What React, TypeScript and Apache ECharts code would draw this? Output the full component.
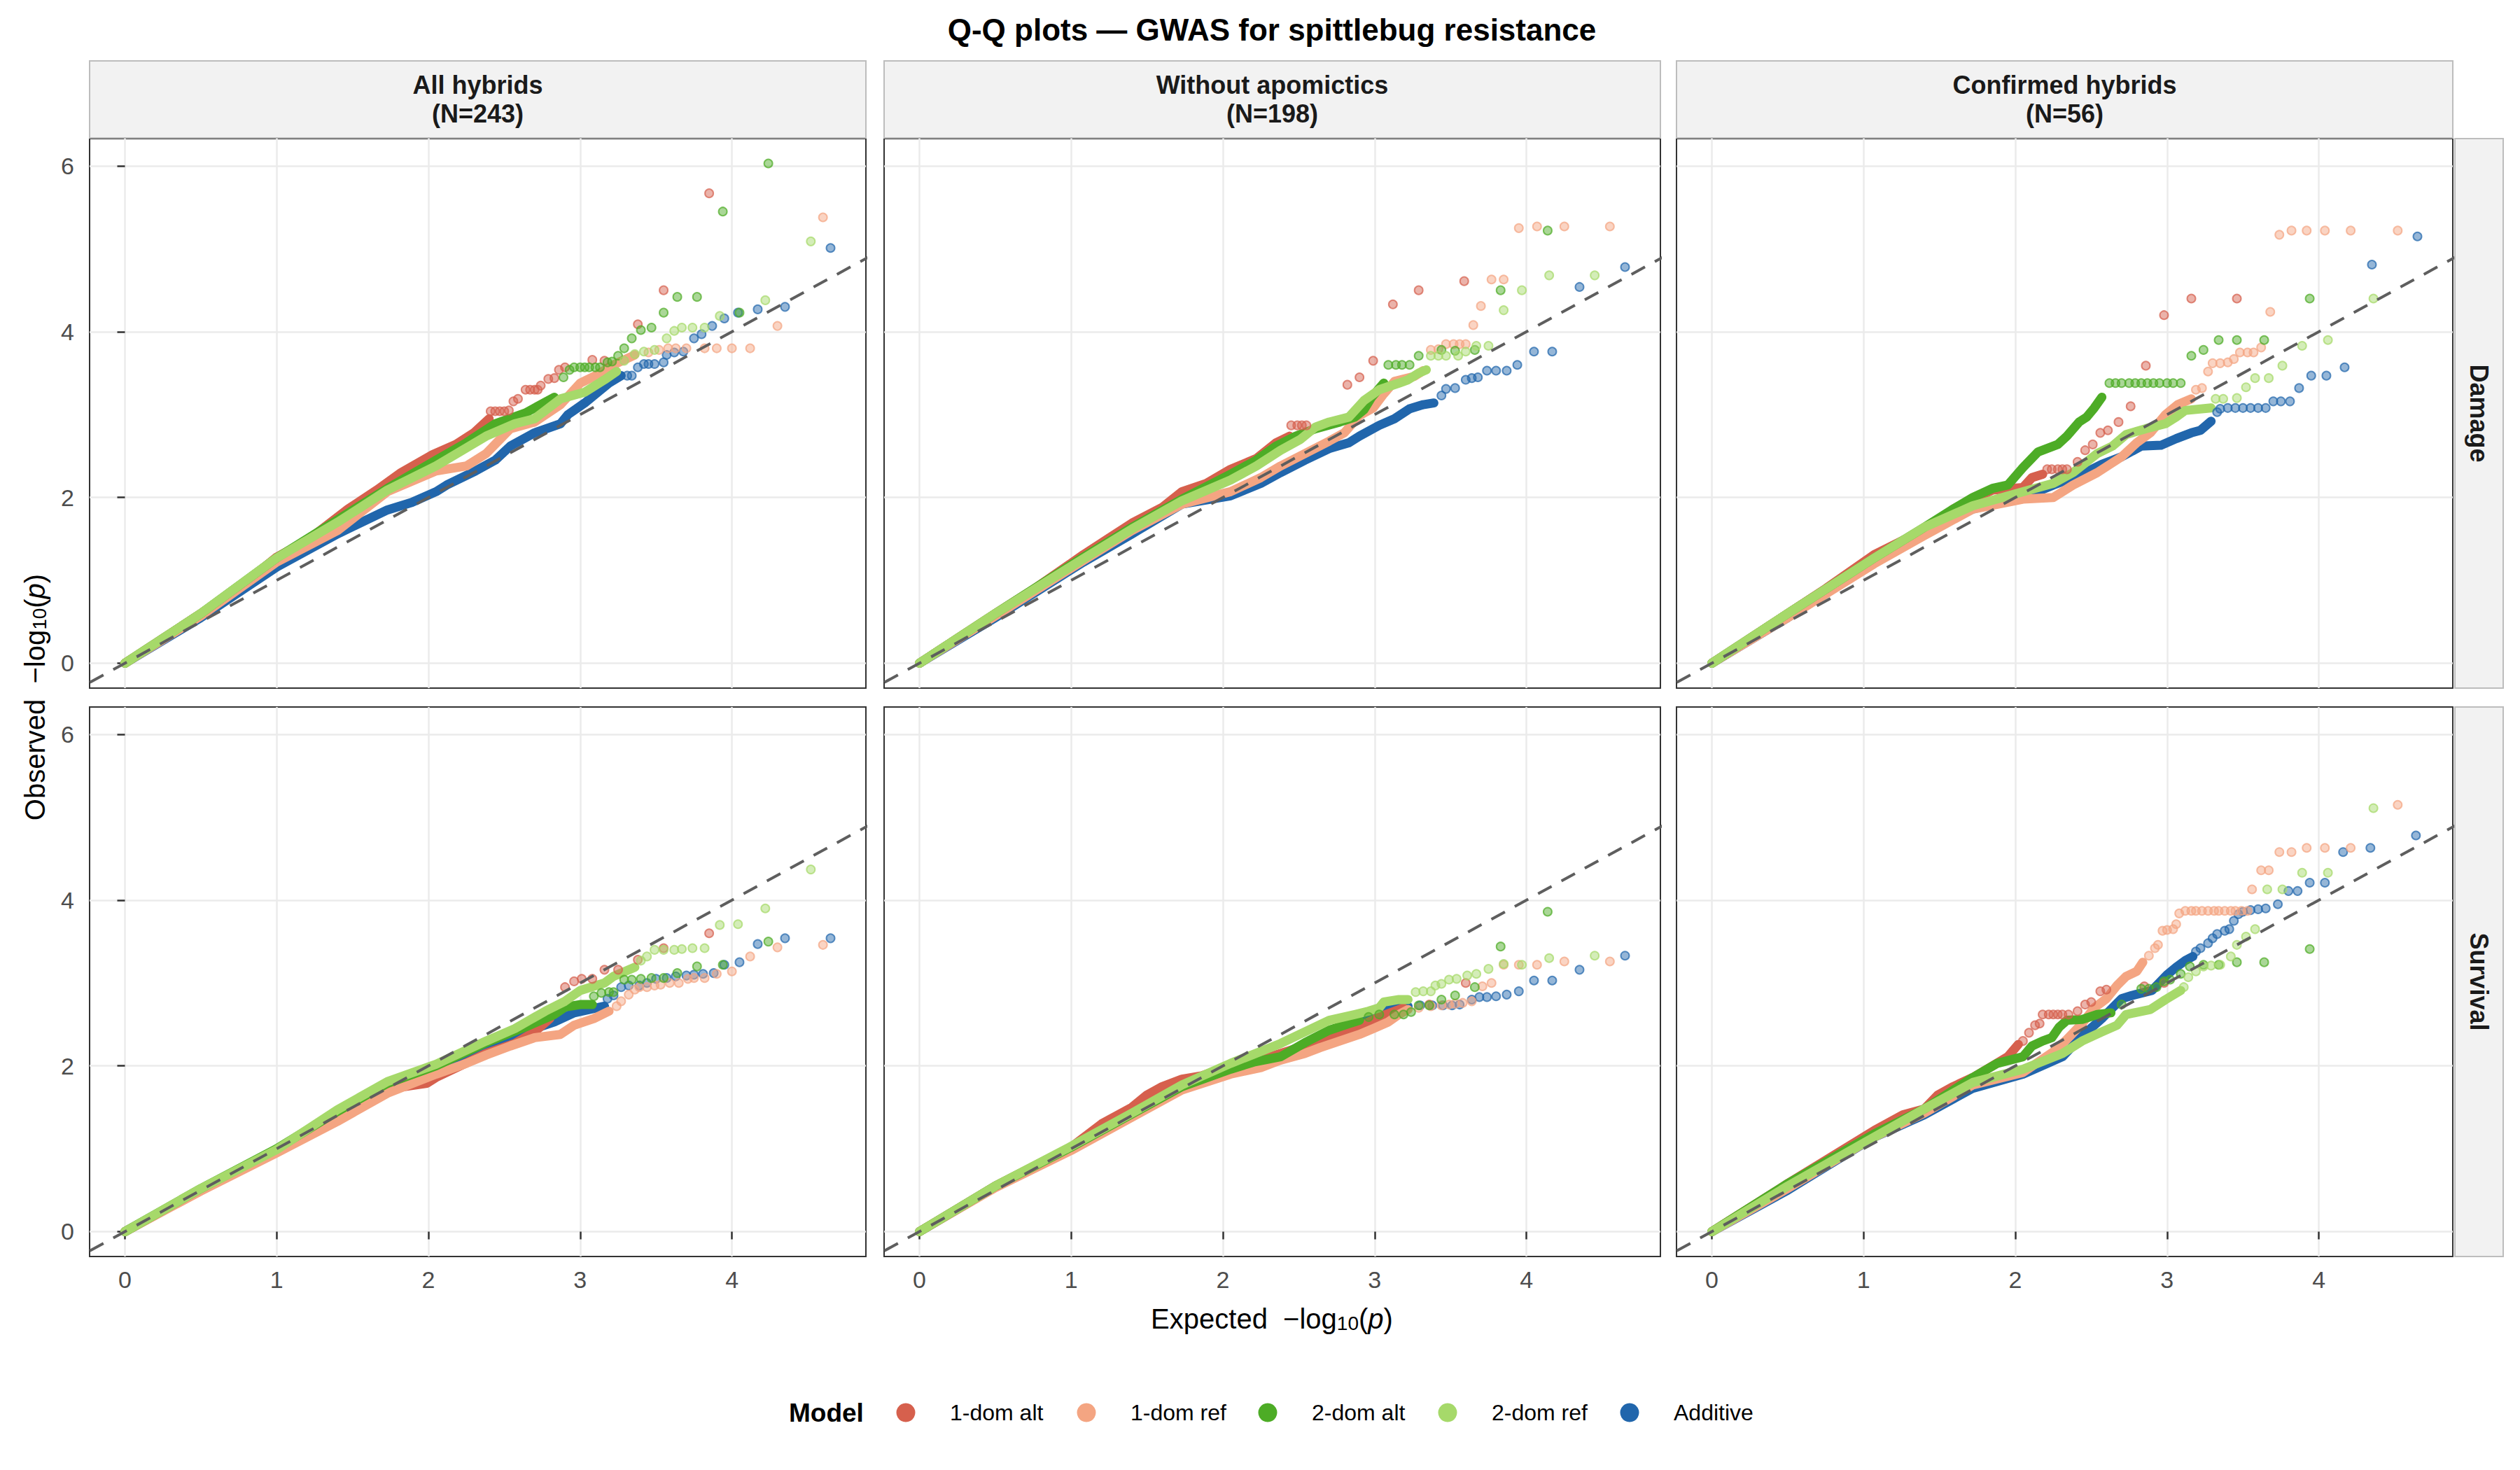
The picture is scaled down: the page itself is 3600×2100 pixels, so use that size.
import { useEffect, useRef } from "react";
import * as echarts from "echarts";

type Pt = [number, number];

const MODELS = ["1-dom alt", "1-dom ref", "2-dom alt", "2-dom ref", "Additive"];
const MODEL_COLORS = ["#d6604d", "#f4a582", "#4dac26", "#a6d96a", "#2166ac"];
const SUBSETS = ["All hybrids", "Without apomictics", "Confirmed hybrids"];
const SUBSET_N = [243, 198, 56];
const TRAITS = ["Damage", "Survival"];
const X_TICKS = [0, 1, 2, 3, 4];
const Y_TICKS = [0, 2, 4, 6];
const X_LIMITS = [-0.233, 4.883];
const Y_LIMITS = [-0.3, 6.33];
const DIAGONAL = [-1, 7];

// Each panel: the dense part of every QQ curve (drawn as a thick trace) and the
// sparse upper tail (single points). Order inside each list follows MODELS.
const damageAllTrace: Pt[][] = [
  [[0, 0], [0.5, 0.6], [0.75, 0.91], [1, 1.28], [1.2, 1.48], [1.47, 1.86], [1.66, 2.09], [1.82, 2.3], [2.02, 2.51], [2.18, 2.64], [2.3, 2.78], [2.4, 2.95]],
  [[0, 0], [0.5, 0.57], [1, 1.22], [1.4, 1.6], [1.73, 2.07], [2.05, 2.32], [2.25, 2.38], [2.38, 2.53], [2.54, 2.83], [2.7, 2.91], [2.87, 3.12], [3, 3.38], [3.09, 3.46], [3.23, 3.61], [3.36, 3.72]],
  [[0, 0], [0.5, 0.6], [1, 1.27], [1.4, 1.73], [1.73, 2.11], [2.05, 2.45], [2.25, 2.66], [2.44, 2.89], [2.64, 3.02], [2.83, 3.21]],
  [[0, 0], [0.5, 0.6], [1, 1.27], [1.4, 1.7], [1.73, 2.09], [2.05, 2.38], [2.38, 2.74], [2.57, 2.89], [2.7, 2.95], [2.87, 3.19], [3.03, 3.27], [3.16, 3.42], [3.24, 3.52]],
  [[0, 0], [0.5, 0.55], [1, 1.16], [1.4, 1.56], [1.73, 1.85], [1.89, 1.94], [2.05, 2.07], [2.12, 2.15], [2.31, 2.32], [2.44, 2.45], [2.54, 2.62], [2.7, 2.78], [2.87, 2.89], [2.92, 3], [3.03, 3.14], [3.09, 3.23], [3.19, 3.38], [3.27, 3.47]],
];
const damageAllTail: Pt[][] = [
  [[2.41, 3.04], [2.44, 3.04], [2.47, 3.04], [2.5, 3.04], [2.53, 3.05], [2.56, 3.16], [2.59, 3.19], [2.64, 3.3], [2.67, 3.3], [2.7, 3.3], [2.72, 3.3], [2.74, 3.35], [2.79, 3.43], [2.83, 3.44], [2.86, 3.54], [2.9, 3.57], [3.08, 3.66], [3.16, 3.65], [3.38, 4.09], [3.55, 4.5], [3.85, 5.67]],
  [[3.45, 3.75], [3.52, 3.78], [3.58, 3.8], [3.63, 3.8], [3.7, 3.8], [3.82, 3.8], [3.9, 3.8], [4, 3.8], [4.12, 3.8], [4.3, 4.07], [4.6, 5.38]],
  [[2.89, 3.45], [2.93, 3.54], [2.96, 3.57], [3, 3.57], [3.03, 3.57], [3.06, 3.57], [3.1, 3.57], [3.13, 3.57], [3.18, 3.63], [3.21, 3.64], [3.25, 3.71], [3.29, 3.8], [3.34, 3.92], [3.4, 4.02], [3.47, 4.05], [3.55, 4.23], [3.64, 4.42], [3.77, 4.42], [3.94, 5.45], [4.05, 4.23], [4.24, 6.03]],
  [[3.29, 3.65], [3.36, 3.73], [3.42, 3.76], [3.49, 3.78], [3.57, 3.92], [3.62, 4.01], [3.67, 4.05], [3.74, 4.05], [3.82, 4.05], [3.92, 4.19], [4.22, 4.38], [4.52, 5.09]],
  [[3.31, 3.47], [3.34, 3.47], [3.38, 3.57], [3.42, 3.61], [3.45, 3.61], [3.49, 3.61], [3.55, 3.63], [3.57, 3.72], [3.62, 3.75], [3.68, 3.76], [3.75, 3.92], [3.8, 3.97], [3.87, 4.07], [3.95, 4.16], [4.04, 4.23], [4.17, 4.27], [4.35, 4.3], [4.65, 5.01]],
];

const damageNoApoTrace: Pt[][] = [
  [[0, 0], [0.5, 0.6], [0.75, 0.89], [1.08, 1.31], [1.4, 1.69], [1.6, 1.88], [1.73, 2.07], [1.89, 2.17], [2.05, 2.34], [2.22, 2.47], [2.35, 2.66], [2.44, 2.74]],
  [[0, 0], [0.5, 0.57], [1.08, 1.24], [1.4, 1.6], [1.73, 1.92], [2.05, 2.07], [2.25, 2.24], [2.38, 2.38], [2.54, 2.53], [2.7, 2.68], [2.8, 2.78], [2.9, 2.99], [2.99, 3.08], [3.06, 3.25], [3.13, 3.4], [3.26, 3.46], [3.32, 3.53]],
  [[0, 0], [0.5, 0.6], [1.08, 1.28], [1.4, 1.64], [1.73, 1.98], [2.05, 2.28], [2.22, 2.45], [2.35, 2.62], [2.48, 2.74], [2.61, 2.83], [2.77, 2.91], [2.87, 2.97], [2.93, 3.06], [2.98, 3.21], [3.06, 3.38]],
  [[0, 0], [0.5, 0.6], [1.08, 1.26], [1.4, 1.62], [1.73, 1.96], [2.05, 2.21], [2.22, 2.38], [2.38, 2.57], [2.51, 2.7], [2.61, 2.85], [2.7, 2.91], [2.83, 2.97], [2.93, 3.17], [3.03, 3.3], [3.16, 3.38], [3.22, 3.42], [3.29, 3.5], [3.34, 3.54]],
  [[0, 0], [0.5, 0.55], [1.08, 1.22], [1.4, 1.56], [1.73, 1.92], [2.05, 2.02], [2.25, 2.17], [2.38, 2.3], [2.54, 2.45], [2.7, 2.59], [2.83, 2.66], [2.9, 2.74], [3.03, 2.87], [3.13, 2.95], [3.23, 3.07], [3.32, 3.12], [3.39, 3.14]],
];
const damageNoApoTail: Pt[][] = [
  [[2.45, 2.87], [2.49, 2.87], [2.52, 2.87], [2.55, 2.87], [2.82, 3.36], [2.9, 3.45], [2.99, 3.65], [3.12, 4.33], [3.29, 4.5], [3.59, 4.61]],
  [[3.37, 3.78], [3.42, 3.79], [3.47, 3.85], [3.52, 3.85], [3.56, 3.85], [3.6, 3.85], [3.65, 4.08], [3.7, 4.31], [3.77, 4.63], [3.85, 4.63], [3.95, 5.25], [4.07, 5.27], [4.25, 5.27], [4.55, 5.27]],
  [[3.09, 3.6], [3.14, 3.6], [3.18, 3.6], [3.23, 3.6], [3.29, 3.71], [3.44, 3.78], [3.53, 3.77], [3.66, 3.78], [3.83, 4.5], [4.14, 5.22]],
  [[3.37, 3.71], [3.42, 3.71], [3.47, 3.71], [3.55, 3.71], [3.6, 3.76], [3.67, 3.83], [3.75, 3.83], [3.85, 4.26], [3.97, 4.5], [4.15, 4.68], [4.45, 4.68]],
  [[3.44, 3.23], [3.47, 3.31], [3.53, 3.32], [3.6, 3.42], [3.64, 3.44], [3.68, 3.45], [3.74, 3.53], [3.8, 3.53], [3.87, 3.53], [3.94, 3.6], [4.05, 3.76], [4.17, 3.76], [4.35, 4.54], [4.65, 4.78]],
];

const damageConfTrace: Pt[][] = [
  [[0, 0], [0.5, 0.6], [0.75, 0.9], [1.07, 1.31], [1.3, 1.52], [1.49, 1.69], [1.59, 1.86], [1.72, 1.98], [1.85, 2.09], [2.05, 2.12], [2.11, 2.24], [2.18, 2.28]],
  [[0, 0], [0.5, 0.55], [1.07, 1.2], [1.4, 1.54], [1.72, 1.86], [2.05, 1.98], [2.25, 2], [2.38, 2.15], [2.54, 2.3], [2.7, 2.49], [2.8, 2.66], [2.89, 2.78], [2.99, 3], [3.07, 3.12], [3.16, 3.19]],
  [[0, 0], [0.5, 0.6], [1.07, 1.27], [1.4, 1.64], [1.59, 1.86], [1.72, 2], [1.85, 2.11], [1.95, 2.15], [2.05, 2.36], [2.15, 2.55], [2.28, 2.64], [2.34, 2.74], [2.42, 2.91], [2.47, 2.97], [2.52, 3.08], [2.57, 3.21]],
  [[0, 0], [0.5, 0.6], [1.07, 1.27], [1.4, 1.64], [1.72, 1.9], [2.05, 2.07], [2.25, 2.17], [2.38, 2.3], [2.54, 2.53], [2.64, 2.62], [2.73, 2.76], [2.86, 2.83], [2.99, 2.89], [3.06, 2.97], [3.12, 3.05], [3.29, 3.08]],
  [[0, 0], [0.5, 0.55], [1.07, 1.22], [1.4, 1.58], [1.72, 1.86], [1.98, 1.98], [2.05, 2], [2.25, 2.15], [2.44, 2.28], [2.57, 2.4], [2.7, 2.49], [2.83, 2.62], [2.96, 2.63], [3.06, 2.71], [3.16, 2.78], [3.22, 2.81], [3.29, 2.92]],
];
const damageConfTail: Pt[][] = [
  [[2.21, 2.34], [2.24, 2.34], [2.28, 2.34], [2.31, 2.34], [2.34, 2.34], [2.41, 2.43], [2.46, 2.57], [2.51, 2.64], [2.56, 2.78], [2.61, 2.81], [2.68, 2.91], [2.76, 3.1], [2.86, 3.59], [2.98, 4.2], [3.16, 4.4], [3.46, 4.4]],
  [[3.19, 3.3], [3.23, 3.32], [3.27, 3.52], [3.3, 3.62], [3.35, 3.62], [3.4, 3.63], [3.44, 3.67], [3.48, 3.75], [3.53, 3.75], [3.57, 3.75], [3.62, 3.81], [3.68, 4.24], [3.74, 5.17], [3.82, 5.22], [3.92, 5.22], [4.04, 5.22], [4.21, 5.22], [4.52, 5.22]],
  [[2.62, 3.38], [2.66, 3.38], [2.7, 3.38], [2.75, 3.38], [2.79, 3.38], [2.83, 3.38], [2.87, 3.38], [2.91, 3.38], [2.95, 3.38], [3, 3.38], [3.04, 3.38], [3.09, 3.38], [3.16, 3.71], [3.24, 3.78], [3.34, 3.9], [3.46, 3.9], [3.64, 3.9], [3.94, 4.4]],
  [[3.32, 3.19], [3.37, 3.19], [3.46, 3.2], [3.52, 3.33], [3.58, 3.44], [3.67, 3.44], [3.76, 3.59], [3.89, 3.83], [4.06, 3.9], [4.36, 4.4]],
  [[3.33, 3.03], [3.35, 3.07], [3.4, 3.08], [3.45, 3.08], [3.5, 3.08], [3.55, 3.08], [3.6, 3.08], [3.65, 3.08], [3.7, 3.16], [3.75, 3.16], [3.81, 3.16], [3.87, 3.32], [3.95, 3.47], [4.05, 3.47], [4.17, 3.57], [4.35, 4.81], [4.65, 5.15]],
];

const survivalAllTrace: Pt[][] = [
  [[0, 0], [0.5, 0.5], [1, 0.97], [1.4, 1.4], [1.73, 1.72], [1.99, 1.79], [2.05, 1.86], [2.21, 2], [2.38, 2.15], [2.57, 2.27], [2.7, 2.41], [2.8, 2.57]],
  [[0, 0], [0.5, 0.49], [1, 0.95], [1.4, 1.33], [1.73, 1.67], [2.05, 1.9], [2.25, 2.03], [2.38, 2.13], [2.54, 2.24], [2.7, 2.34], [2.87, 2.38], [2.96, 2.49], [3.09, 2.57], [3.19, 2.66]],
  [[0, 0], [0.5, 0.52], [1, 1], [1.4, 1.45], [1.73, 1.79], [2.05, 2], [2.38, 2.28], [2.64, 2.47], [2.83, 2.62], [2.9, 2.71], [3, 2.74], [3.08, 2.74]],
  [[0, 0], [0.5, 0.52], [1, 0.99], [1.4, 1.47], [1.73, 1.81], [2.05, 2.02], [2.38, 2.3], [2.57, 2.45], [2.77, 2.66], [2.9, 2.78], [3, 2.91], [3.16, 3], [3.22, 3.08], [3.36, 3.19]],
  [[0, 0], [0.5, 0.51], [1, 0.98], [1.4, 1.42], [1.73, 1.76], [2.05, 1.96], [2.38, 2.24], [2.57, 2.37], [2.7, 2.45], [2.83, 2.53], [2.96, 2.64], [3.16, 2.72]],
];
const survivalAllTail: Pt[][] = [
  [[2.9, 2.95], [2.96, 3.02], [3.01, 3.05], [3.08, 3.05], [3.16, 3.16], [3.25, 3.16], [3.38, 3.28], [3.55, 3.42], [3.85, 3.6]],
  [[3.24, 2.72], [3.27, 2.78], [3.32, 2.86], [3.36, 2.92], [3.39, 2.95], [3.44, 2.95], [3.49, 2.97], [3.53, 2.98], [3.59, 3], [3.65, 3], [3.71, 3.05], [3.75, 3.06], [3.82, 3.06], [3.9, 3.11], [4, 3.14], [4.12, 3.32], [4.3, 3.43], [4.6, 3.46]],
  [[3.09, 2.84], [3.14, 2.88], [3.19, 2.89], [3.22, 2.89], [3.29, 3.04], [3.34, 3.04], [3.4, 3.05], [3.47, 3.06], [3.55, 3.06], [3.64, 3.12], [3.77, 3.2], [3.94, 3.22], [4.24, 3.5]],
  [[3.4, 3.27], [3.44, 3.32], [3.49, 3.4], [3.55, 3.4], [3.62, 3.4], [3.67, 3.41], [3.74, 3.42], [3.82, 3.42], [3.92, 3.7], [4.04, 3.71], [4.22, 3.9], [4.52, 4.37]],
  [[3.18, 2.81], [3.22, 2.85], [3.27, 2.95], [3.32, 2.97], [3.39, 2.97], [3.44, 3], [3.5, 3.05], [3.57, 3.06], [3.63, 3.08], [3.7, 3.09], [3.75, 3.1], [3.81, 3.11], [3.88, 3.12], [3.95, 3.22], [4.05, 3.25], [4.17, 3.47], [4.35, 3.54], [4.65, 3.54]],
];

const survivalNoApoTrace: Pt[][] = [
  [[0, 0], [0.5, 0.55], [1, 1.02], [1.2, 1.3], [1.4, 1.5], [1.5, 1.65], [1.6, 1.75], [1.73, 1.84], [1.86, 1.88], [2.05, 2], [2.31, 2.11], [2.57, 2.26], [2.87, 2.45], [3.03, 2.59], [3.19, 2.7]],
  [[0, 0], [0.5, 0.53], [1, 0.98], [1.4, 1.38], [1.73, 1.71], [2.05, 1.9], [2.25, 1.98], [2.38, 2.07], [2.54, 2.15], [2.64, 2.22], [2.77, 2.3], [2.9, 2.38], [2.99, 2.45], [3.09, 2.53], [3.16, 2.62], [3.22, 2.68]],
  [[0, 0], [0.5, 0.55], [1, 1.02], [1.4, 1.42], [1.73, 1.75], [2.05, 1.96], [2.21, 2.05], [2.38, 2.11], [2.54, 2.28], [2.7, 2.43], [2.83, 2.51], [2.9, 2.55]],
  [[0, 0], [0.5, 0.55], [1, 1.03], [1.4, 1.43], [1.73, 1.77], [2.05, 2.03], [2.38, 2.27], [2.54, 2.41], [2.7, 2.55], [2.87, 2.62], [2.96, 2.66], [3.03, 2.7], [3.06, 2.77], [3.16, 2.8], [3.22, 2.8]],
  [[0, 0], [0.5, 0.54], [1, 1], [1.4, 1.41], [1.73, 1.75], [2.05, 1.98], [2.38, 2.13], [2.54, 2.26], [2.7, 2.38], [2.83, 2.49], [2.9, 2.57], [3.03, 2.66], [3.13, 2.7], [3.22, 2.72]],
];
const survivalNoApoTail: Pt[][] = [
  [[3.36, 2.74], [3.6, 3]],
  [[3.29, 2.7], [3.37, 2.72], [3.44, 2.73], [3.49, 2.74], [3.53, 2.75], [3.58, 2.76], [3.64, 2.78], [3.71, 2.96], [3.77, 3], [3.85, 3.22], [3.95, 3.22], [4.07, 3.22], [4.25, 3.26], [4.55, 3.26]],
  [[2.96, 2.59], [3.03, 2.62], [3.13, 2.62], [3.19, 2.62], [3.24, 2.65], [3.29, 2.73], [3.36, 2.73], [3.44, 2.8], [3.53, 2.85], [3.66, 2.95], [3.83, 3.44], [4.14, 3.86]],
  [[3.27, 2.89], [3.32, 2.9], [3.37, 2.9], [3.4, 2.97], [3.44, 2.99], [3.49, 3.04], [3.54, 3.05], [3.61, 3.09], [3.67, 3.11], [3.75, 3.17], [3.85, 3.23], [3.97, 3.22], [4.15, 3.3], [4.45, 3.33]],
  [[3.3, 2.73], [3.38, 2.73], [3.45, 2.73], [3.51, 2.73], [3.56, 2.74], [3.64, 2.8], [3.69, 2.83], [3.74, 2.83], [3.8, 2.84], [3.87, 2.86], [3.95, 2.9], [4.05, 3.03], [4.17, 3.03], [4.35, 3.16], [4.65, 3.33]],
];

const survivalConfTrace: Pt[][] = [
  [[0, 0], [0.5, 0.58], [0.75, 0.86], [1.07, 1.22], [1.26, 1.41], [1.4, 1.48], [1.49, 1.65], [1.59, 1.75], [1.72, 1.86], [1.85, 2], [1.95, 2.11], [2.02, 2.26]],
  [[0, 0], [0.5, 0.52], [1.07, 1.14], [1.4, 1.43], [1.72, 1.77], [2.05, 1.92], [2.25, 2.17], [2.34, 2.32], [2.44, 2.51], [2.52, 2.7], [2.6, 2.81], [2.67, 2.97], [2.73, 3.08], [2.8, 3.14], [2.84, 3.25]],
  [[0, 0], [0.5, 0.58], [1.07, 1.18], [1.4, 1.48], [1.72, 1.86], [1.88, 2.03], [2.05, 2.11], [2.11, 2.24], [2.18, 2.3], [2.24, 2.34], [2.29, 2.47], [2.34, 2.55], [2.44, 2.56], [2.54, 2.62], [2.63, 2.64]],
  [[0, 0], [0.5, 0.55], [1.07, 1.14], [1.4, 1.48], [1.72, 1.8], [2.05, 1.96], [2.31, 2.15], [2.44, 2.3], [2.57, 2.41], [2.67, 2.49], [2.73, 2.62], [2.89, 2.68], [2.99, 2.8], [3.09, 2.91]],
  [[0, 0], [0.5, 0.5], [1.07, 1.14], [1.4, 1.41], [1.72, 1.73], [2.05, 1.9], [2.31, 2.11], [2.44, 2.36], [2.57, 2.57], [2.7, 2.81], [2.77, 2.85], [2.9, 2.91], [3, 3.1], [3.06, 3.19], [3.12, 3.27], [3.17, 3.32]],
];
const survivalConfTail: Pt[][] = [
  [[2.05, 2.3], [2.09, 2.4], [2.13, 2.49], [2.16, 2.51], [2.18, 2.62], [2.22, 2.62], [2.25, 2.62], [2.28, 2.62], [2.31, 2.62], [2.35, 2.62], [2.41, 2.66], [2.46, 2.74], [2.5, 2.77], [2.56, 2.9], [2.6, 2.92], [2.85, 2.96], [2.98, 3]],
  [[2.88, 3.33], [2.92, 3.42], [2.94, 3.46], [2.97, 3.63], [3, 3.64], [3.04, 3.65], [3.06, 3.71], [3.08, 3.84], [3.12, 3.87], [3.16, 3.87], [3.19, 3.87], [3.23, 3.87], [3.27, 3.87], [3.31, 3.87], [3.34, 3.87], [3.38, 3.87], [3.42, 3.87], [3.45, 3.87], [3.49, 3.87], [3.53, 3.87], [3.56, 4.13], [3.62, 4.36], [3.67, 4.36], [3.74, 4.58], [3.82, 4.58], [3.92, 4.63], [4.04, 4.63], [4.21, 4.63], [4.52, 5.15]],
  [[2.7, 2.74], [2.83, 2.93], [2.88, 2.93], [2.93, 2.95], [2.98, 3.02], [3.02, 3.04], [3.09, 3.11], [3.15, 3.2], [3.24, 3.22], [3.34, 3.22], [3.46, 3.25], [3.64, 3.25], [3.94, 3.41]],
  [[3.11, 2.95], [3.14, 3.07], [3.19, 3.14], [3.24, 3.2], [3.29, 3.21], [3.35, 3.22], [3.42, 3.32], [3.46, 3.46], [3.52, 3.56], [3.58, 3.65], [3.66, 4.13], [3.76, 4.13], [3.89, 4.33], [4.06, 4.33], [4.36, 5.11]],
  [[3.19, 3.38], [3.22, 3.42], [3.27, 3.48], [3.3, 3.54], [3.33, 3.59], [3.38, 3.63], [3.41, 3.65], [3.44, 3.75], [3.47, 3.83], [3.5, 3.86], [3.55, 3.88], [3.6, 3.89], [3.65, 3.9], [3.73, 3.95], [3.8, 4.11], [3.86, 4.11], [3.94, 4.21], [4.04, 4.21], [4.16, 4.58], [4.34, 4.63], [4.64, 4.78]],
];

// panels in reading order (rows = traits, columns = subsets)
const PANEL_TRACES = [damageAllTrace, damageNoApoTrace, damageConfTrace, survivalAllTrace, survivalNoApoTrace, survivalConfTrace];
const PANEL_TAILS = [damageAllTail, damageNoApoTail, damageConfTail, survivalAllTail, survivalNoApoTail, survivalConfTail];

// layout (px on the 3600x2100 canvas)
const FONT = '"Liberation Sans", Arial, Helvetica, sans-serif';
const COL_LEFT = [128, 1263, 2395];
const ROW_TOP = [198, 1010];
const PANEL_W = 1109;
const PANEL_H = 785;
const DRAW_ORDER = [4, 0, 1, 2, 3]; // additive at the bottom, 2-dom ref on top

function rgba(hex: string, a: number) {
  const n = parseInt(hex.slice(1), 16);
  return `rgba(${n >> 16},${(n >> 8) & 255},${n & 255},${a})`;
}

function axisTitle(text: string, x: number, y: number, rotation = 0) {
  return {
    type: "text",
    x,
    y,
    rotation,
    style: {
      text: `{t|${text}  −log}{s|10}{t|(}{i|p}{t|)}`,
      align: "center",
      verticalAlign: "middle",
      rich: {
        t: { fontSize: 40, fontFamily: FONT, fill: "#000", verticalAlign: "bottom", lineHeight: 48 },
        s: { fontSize: 28, fontFamily: FONT, fill: "#000", verticalAlign: "bottom", lineHeight: 20 },
        i: { fontSize: 40, fontFamily: FONT, fontStyle: "italic", fill: "#000", verticalAlign: "bottom", lineHeight: 48 },
      },
    },
  };
}

function buildOption(): echarts.EChartsOption {
  const grid: any[] = [];
  const xAxis: any[] = [];
  const yAxis: any[] = [];
  const series: any[] = [];

  PANEL_TRACES.forEach((traces, i) => {
    const row = Math.floor(i / 3);
    const col = i % 3;
    grid.push({
      left: COL_LEFT[col],
      top: ROW_TOP[row],
      width: PANEL_W,
      height: PANEL_H,
      show: true,
      backgroundColor: "#ffffff",
      borderColor: "#333333",
      borderWidth: 2,
    });
    xAxis.push({
      type: "value",
      gridIndex: i,
      min: X_LIMITS[0],
      max: X_LIMITS[1],
      axisLine: { show: false },
      axisTick: { show: row === 1, customValues: X_TICKS, length: 11, lineStyle: { color: "#333333", width: 2.5 } },
      axisLabel: { show: row === 1, customValues: X_TICKS, fontSize: 34, color: "#4d4d4d", fontFamily: FONT, margin: 16 },
      splitLine: { show: true, lineStyle: { color: "#ebebeb", width: 2.5 } },
    });
    yAxis.push({
      type: "value",
      gridIndex: i,
      min: Y_LIMITS[0],
      max: Y_LIMITS[1],
      axisLine: { show: false },
      axisTick: { show: col === 0, customValues: Y_TICKS, length: 11, lineStyle: { color: "#333333", width: 2.5 } },
      axisLabel: { show: col === 0, customValues: Y_TICKS, fontSize: 34, color: "#4d4d4d", fontFamily: FONT, margin: 22 },
      splitLine: { show: true, lineStyle: { color: "#ebebeb", width: 2.5 } },
    });

    DRAW_ORDER.forEach((m) => {
      series.push({
        type: "line",
        name: MODELS[m],
        xAxisIndex: i,
        yAxisIndex: i,
        data: traces[m],
        symbol: "none",
        showSymbol: false,
        silent: true,
        itemStyle: { color: MODEL_COLORS[m] },
        lineStyle: { color: MODEL_COLORS[m], width: 13, cap: "round", join: "round" },
        z: 2,
      });
    });
    DRAW_ORDER.forEach((m) => {
      series.push({
        type: "scatter",
        name: MODELS[m],
        xAxisIndex: i,
        yAxisIndex: i,
        data: PANEL_TAILS[i][m],
        symbolSize: 12,
        silent: true,
        itemStyle: { color: rgba(MODEL_COLORS[m], 0.6), borderColor: rgba(MODEL_COLORS[m], 0.9), borderWidth: 2 },
        z: 3,
      });
    });
    series.push({
      type: "line",
      xAxisIndex: i,
      yAxisIndex: i,
      data: DIAGONAL.map((v) => [v, v]),
      symbol: "none",
      showSymbol: false,
      silent: true,
      clip: true,
      lineStyle: { color: "#5e5e5e", width: 4, type: [22, 16] },
      z: 4,
    });
  });

  const graphic: any[] = [
    {
      type: "text",
      x: 1817,
      y: 42,
      style: {
        text: "Q-Q plots — GWAS for spittlebug resistance",
        fontSize: 44,
        fontWeight: "bold",
        fontFamily: FONT,
        fill: "#000",
        align: "center",
        verticalAlign: "middle",
      },
    },
    axisTitle("Expected", 1817, 1880),
    axisTitle("Observed", 46, 996, Math.PI / 2),
  ];

  SUBSETS.forEach((name, c) => {
    graphic.push({
      type: "rect",
      shape: { x: COL_LEFT[c], y: 87, width: PANEL_W, height: 110 },
      style: { fill: "#f2f2f2", stroke: "#bdbdbd", lineWidth: 2 },
    });
    graphic.push({
      type: "text",
      x: COL_LEFT[c] + PANEL_W / 2,
      y: 142,
      style: {
        text: `${name}\n(N=${SUBSET_N[c]})`,
        fontSize: 36,
        fontWeight: "bold",
        fontFamily: FONT,
        lineHeight: 41,
        fill: "#1a1a1a",
        align: "center",
        verticalAlign: "middle",
      },
    });
  });

  TRAITS.forEach((name, r) => {
    graphic.push({
      type: "rect",
      shape: { x: 3507, y: ROW_TOP[r], width: 69, height: PANEL_H },
      style: { fill: "#f2f2f2", stroke: "#bdbdbd", lineWidth: 2 },
    });
    graphic.push({
      type: "text",
      x: 3541,
      y: ROW_TOP[r] + PANEL_H / 2,
      rotation: -Math.PI / 2,
      style: {
        text: name,
        fontSize: 36,
        fontWeight: "bold",
        fontFamily: FONT,
        fill: "#1a1a1a",
        align: "center",
        verticalAlign: "middle",
      },
    });
  });

  // legend
  const legendY = 2018;
  const keyX = [1294, 1552, 1811, 2068, 2328];
  graphic.push({
    type: "text",
    x: 1127,
    y: legendY,
    style: { text: "Model", fontSize: 37, fontWeight: "bold", fontFamily: FONT, fill: "#000", align: "left", verticalAlign: "middle" },
  });
  MODELS.forEach((name, m) => {
    graphic.push({
      type: "circle",
      shape: { cx: keyX[m], cy: legendY, r: 13.5 },
      style: { fill: MODEL_COLORS[m] },
    });
    graphic.push({
      type: "text",
      x: keyX[m] + 63,
      y: legendY,
      style: { text: name, fontSize: 32, fontFamily: FONT, fill: "#000", align: "left", verticalAlign: "middle" },
    });
  });

  return {
    animation: false,
    backgroundColor: "#ffffff",
    grid,
    xAxis,
    yAxis,
    series,
    graphic,
  };
}

export default function App() {
  const chartRef = useRef<HTMLDivElement>(null);

  useEffect(() => {
    if (!chartRef.current) return;
    const chart = echarts.init(chartRef.current, undefined, { renderer: "svg" });
    chart.setOption(buildOption());
    return () => chart.dispose();
  }, []);

  return (
    <div
      ref={chartRef}
      style={{ position: "fixed", left: 0, top: 0, width: 3600, height: 2100, background: "#ffffff" }}
    />
  );
}
